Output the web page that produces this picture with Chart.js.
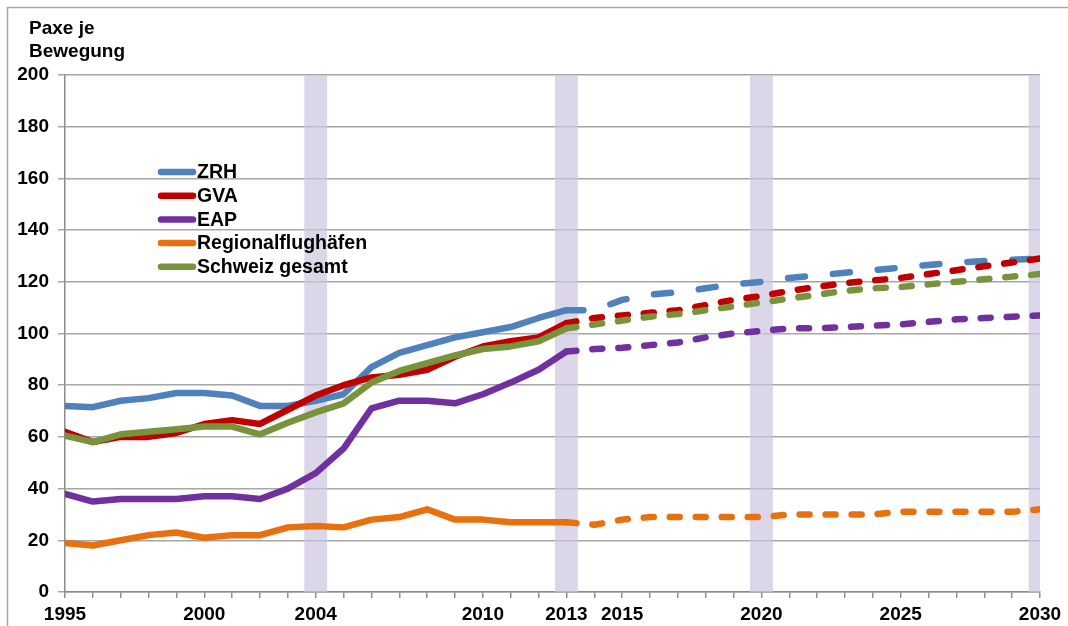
<!DOCTYPE html>
<html>
<head>
<meta charset="utf-8">
<script src="https://cdn.jsdelivr.net/npm/chart.js@4.4.0/dist/chart.umd.min.js"></script>
<style>
  html, body { margin: 0; padding: 0; background: #fff; }
</style>
</head>
<body>
<canvas id="mycanvas" width="1068" height="626"></canvas>
<script>
// years 1995 - 2030, actual values up to 2013, forecast afterwards
var years = [1995, 1996, 1997, 1998, 1999, 2000, 2001, 2002, 2003, 2004,
             2005, 2006, 2007, 2008, 2009, 2010, 2011, 2012, 2013, 2014,
             2015, 2016, 2017, 2018, 2019, 2020, 2021, 2022, 2023, 2024,
             2025, 2026, 2027, 2028, 2029, 2030];

var ZRH = [72, 71.5, 74, 75, 77, 77, 76, 72, 72, 74,
           76.5, 87, 92.5, 95.5, 98.5, 100.5, 102.5, 106, 109, 109,
           113, 115, 116, 117.5, 119, 120, 121.5, 122.5, 123.5, 124.5,
           125.5, 126.5, 127.5, 128, 128.5, 129];
var GVA = [62, 58, 60, 60, 61.5, 65, 66.5, 65, 70.5, 76,
           80, 83, 84, 86, 91, 95, 97, 98.5, 104, 106,
           107, 108, 109, 111, 113, 114.5, 116.5, 118, 119.5, 120.5,
           121.5, 123, 124.5, 126, 127.5, 129];
var EAP = [38, 35, 36, 36, 36, 37, 37, 36, 40, 46,
           55.5, 71, 74, 74, 73, 76.5, 81, 86, 93, 94,
           94.5, 95.5, 96.5, 98.5, 100, 101, 102, 102, 102.5, 103,
           103.5, 104.5, 105.5, 106, 106.5, 107];
var REG = [19, 18, 20, 22, 23, 21, 22, 22, 25, 25.5,
           25, 28, 29, 32, 28, 28, 27, 27, 27, 26,
           28, 29, 29, 29, 29, 29, 30, 30, 30, 30,
           31, 31, 31, 31, 31, 32];
var CH = [60.5, 58, 61, 62, 63, 64, 64, 61, 65.5, 69.5,
          73, 81, 85.5, 88.5, 91.5, 94, 95, 97, 102, 103.5,
          105, 106.5, 107.5, 109, 110.5, 112, 113.5, 115, 116.5, 117.5,
          118, 119, 120, 121, 122, 123];

var seriesNames = ["ZRH", "GVA", "EAP", "Regionalflughäfen", "Schweiz gesamt"];
var seriesColors = ["#4f81bd", "#c00000", "#7030a0", "#e8700f", "#77933c"];
var seriesValues = [ZRH, GVA, EAP, REG, CH];

var labelYears = [1995, 2000, 2004, 2010, 2013, 2015, 2020, 2025, 2030];
var bandYears = [2004, 2013, 2020, 2030];
var forecastFrom = 2013;

var FONT = "'Liberation Sans', Arial, sans-serif";
var LINE_W = 6.5;

var datasets = seriesValues.map(function(vals, i) {
  var dash = i === 0 ? [17, 28] : [10, 16];
  return {
    label: seriesNames[i],
    data: years.map(function(y, k) { return {x: y, y: vals[k]}; }),
    borderColor: seriesColors[i],
    backgroundColor: seriesColors[i],
    borderWidth: LINE_W,
    borderCapStyle: "round",
    borderJoinStyle: "round",
    pointRadius: 0,
    tension: 0,
    fill: false,
    order: 5 - i,
    segment: {
      borderDash: function(ctx) {
        return ctx.p0.parsed.x >= forecastFrom ? dash : [];
      }
    }
  };
});

// white background, frame lines and the unit title
var framePlugin = {
  id: "frame",
  beforeDraw: function(chart) {
    var c = chart.ctx;
    c.save();
    c.fillStyle = "#fff";
    c.fillRect(0, 0, chart.width, chart.height);
    c.strokeStyle = "#a6a6a6";
    c.lineWidth = 1.5;
    c.beginPath();
    c.moveTo(7.5, chart.height);
    c.lineTo(7.5, 7.5);
    c.lineTo(chart.width, 7.5);
    c.stroke();
    c.fillStyle = "#000";
    c.font = "bold 19px " + FONT;
    c.textBaseline = "alphabetic";
    c.fillText("Paxe je", 29, 34);
    c.fillText("Bewegung", 29, 57);
    c.restore();
  }
};

// shaded columns marking the reference years
var bandPlugin = {
  id: "bands",
  beforeDatasetsDraw: function(chart) {
    var c = chart.ctx, a = chart.chartArea, xs = chart.scales.x;
    c.save();
    c.beginPath();
    c.rect(a.left, a.top, a.right - a.left, a.bottom - a.top);
    c.clip();
    c.fillStyle = "rgba(205, 196, 224, 0.7)";
    bandYears.forEach(function(y) {
      var x0 = xs.getPixelForValue(y - 0.41);
      var x1 = xs.getPixelForValue(y + 0.41);
      c.fillRect(x0, a.top, x1 - x0, a.bottom - a.top);
    });
    c.restore();
  }
};

// legend inside the plot, top left
var legendPlugin = {
  id: "innerLegend",
  afterDatasetsDraw: function(chart) {
    var c = chart.ctx;
    c.save();
    c.font = "bold 19.5px " + FONT;
    c.textBaseline = "middle";
    c.lineCap = "round";
    c.lineWidth = LINE_W;
    seriesNames.forEach(function(name, i) {
      var y = 172 + i * 23.7;
      c.strokeStyle = seriesColors[i];
      c.beginPath();
      c.moveTo(161, y);
      c.lineTo(193, y);
      c.stroke();
      c.fillStyle = "#000";
      c.fillText(name, 197, y + 1);
    });
    c.restore();
  }
};

var ctx = document.getElementById("mycanvas");

var LineGraph = new Chart(ctx, {
  type: "line",
  data: { datasets: datasets },
  plugins: [framePlugin, bandPlugin, legendPlugin],
  options: {
    responsive: false,
    animation: false,
    devicePixelRatio: 1,
    layout: { padding: { left: 7, top: 75, right: 28, bottom: 0 } },
    plugins: {
      legend: { display: false },
      tooltip: { enabled: false }
    },
    scales: {
      x: {
        type: "linear",
        min: 1995,
        max: 2030,
        afterFit: function(s) { s.height = 34; },
        grid: {
          drawOnChartArea: false,
          drawTicks: true,
          tickLength: 6,
          color: "#8c8c8c",
          lineWidth: 1.5
        },
        border: { display: true, color: "#8c8c8c", width: 1.5 },
        ticks: {
          stepSize: 1,
          autoSkip: false,
          maxRotation: 0,
          padding: 5,
          color: "#000",
          font: { family: FONT, size: 19, weight: "bold" },
          callback: function(v) {
            return labelYears.indexOf(v) >= 0 ? String(v) : "";
          }
        }
      },
      y: {
        min: 0,
        max: 200,
        afterFit: function(s) { s.width = 58; },
        grid: {
          color: "#a6a6a6",
          lineWidth: 1.5,
          tickLength: 7
        },
        border: { display: true, color: "#8c8c8c", width: 1.5 },
        ticks: {
          stepSize: 20,
          padding: 9,
          color: "#000",
          font: { family: FONT, size: 19, weight: "bold" }
        }
      }
    }
  }
});
</script>
</body>
</html>
